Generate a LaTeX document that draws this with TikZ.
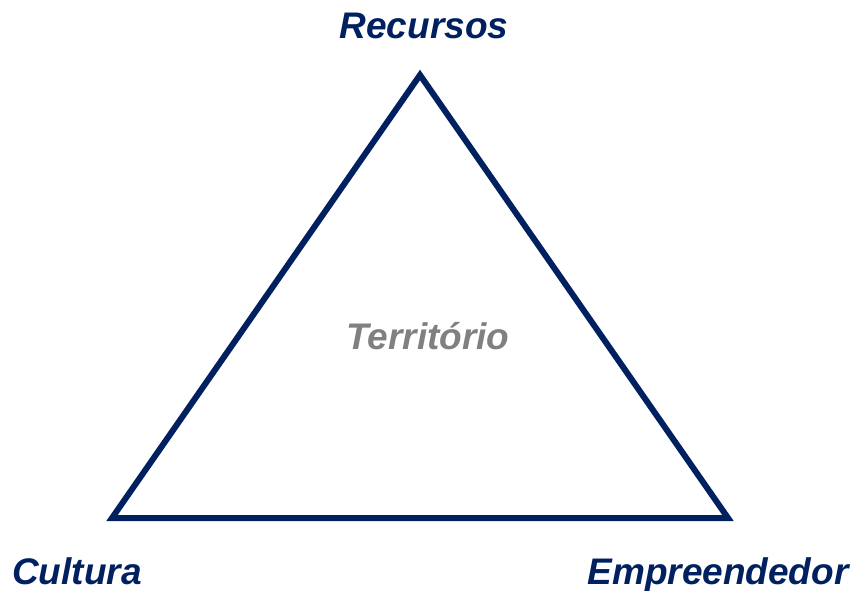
\documentclass[tikz,border=0pt]{standalone}
\usepackage{fontspec}
\setmainfont{Liberation Sans}
\definecolor{navy}{HTML}{002060}
\definecolor{grayt}{HTML}{808080}
\begin{document}
\begin{tikzpicture}[x=1pt,y=-1pt,
  lbl/.style={anchor=base,inner sep=0pt,font=\fontsize{37}{41}\selectfont\bfseries\itshape,text=navy},
  side/.style={draw=navy,line width=6pt,line join=miter}]
\useasboundingbox (0,0) rectangle (854,591);
\coordinate (top) at (420,75);
\coordinate (bl) at (112,518);
\coordinate (br) at (728,518);
\draw[side] (top) -- (bl) -- (br) -- cycle;
\node[lbl] (rec) at (424,39) {Recursos};
\node[lbl] (cul) at (77,584) {Cultura};
\node[lbl] (emp) at (718,584) {Empreendedor};
\node[lbl,text=grayt] (ter) at (428,349) {Território};
\end{tikzpicture}
\end{document}
